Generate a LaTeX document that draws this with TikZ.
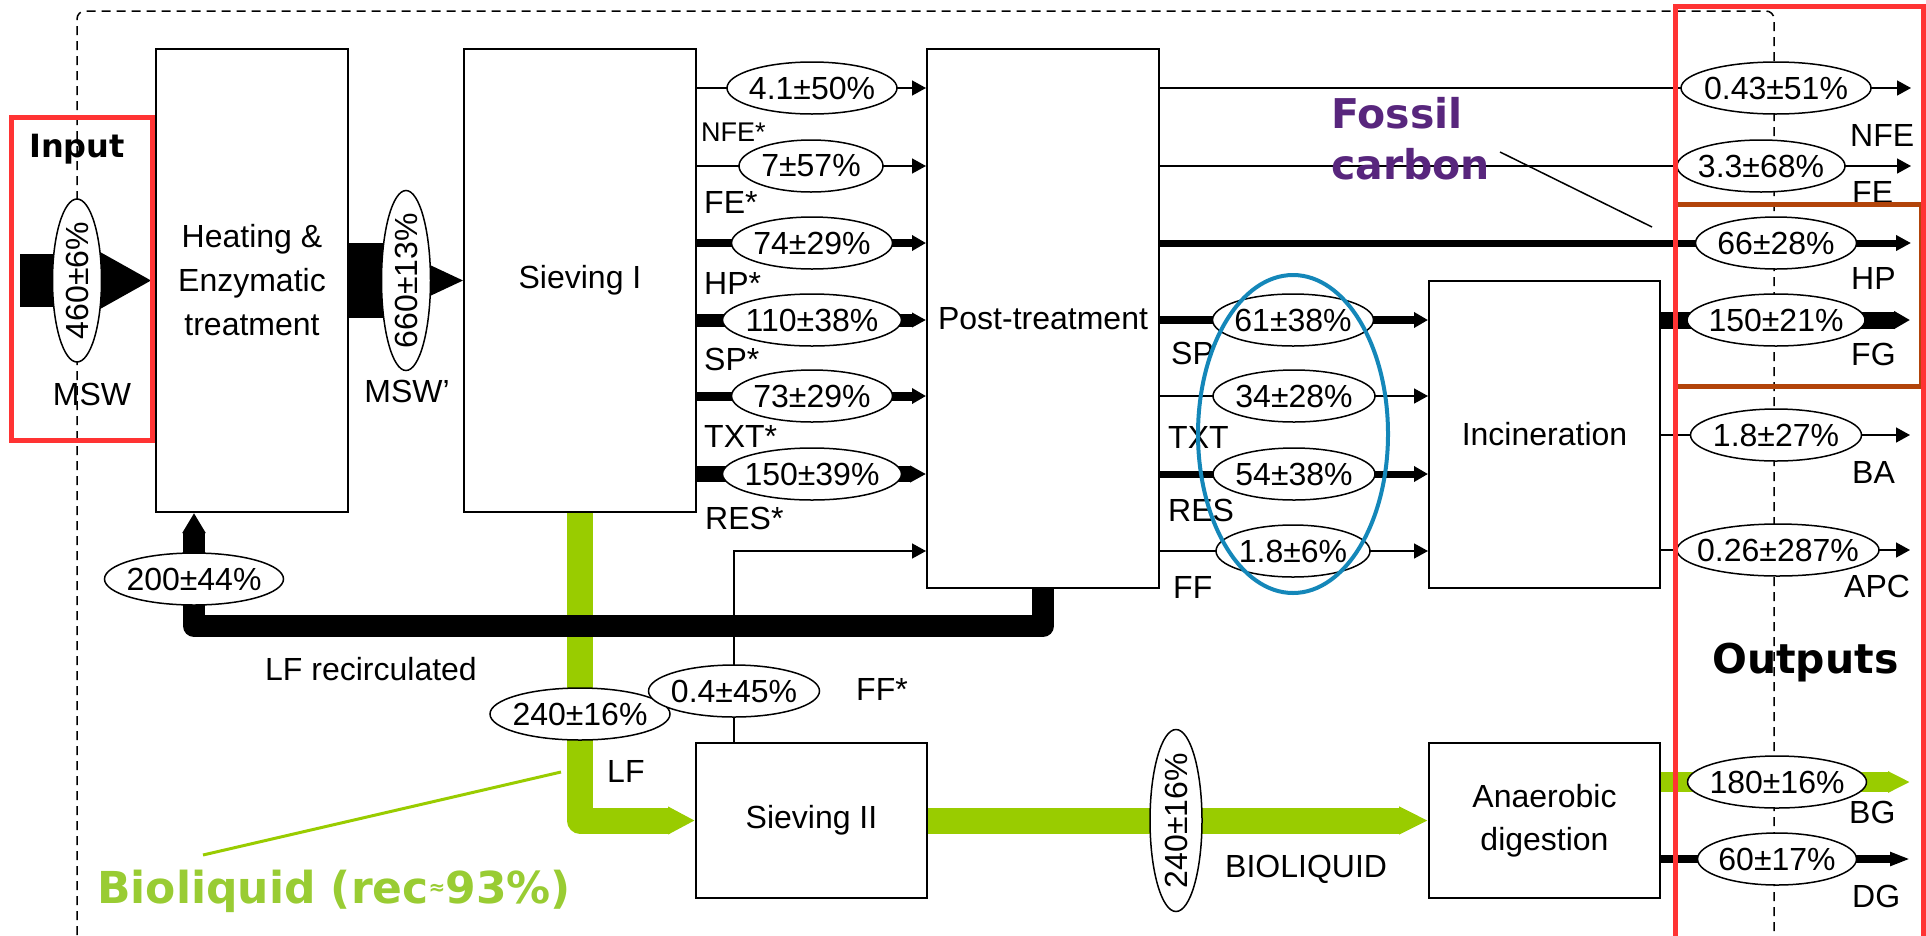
\documentclass[tikz,border=0pt]{standalone}
\usepackage{fontspec}
\setmainfont{Liberation Sans}
\newfontfamily\dvs{DejaVu Sans}
\usetikzlibrary{arrows.meta,shapes.geometric}
\pgfdeclarelayer{bg}
\pgfdeclarelayer{fg}
\pgfsetlayers{bg,main,fg}
\definecolor{lime}{RGB}{153,204,0}
\definecolor{limetxt}{RGB}{153,204,51}
\definecolor{fossilc}{RGB}{88,38,125}
\definecolor{redbox}{RGB}{255,51,51}
\definecolor{brownbox}{RGB}{178,68,10}
\definecolor{bluering}{RGB}{20,135,185}
\newcommand\lbl{\fontsize{32}{44}\selectfont}
\newcommand\slbl{\fontsize{27}{32}\selectfont}
\newcommand\ellnode[5][]{\node[ell,minimum width=#4pt,#1] (#2) at (#3) {#5};}
\tikzset{
 box/.style={draw, line width=2pt, fill=white, align=center, font=\lbl, inner sep=0pt},
 ell/.style={ellipse, draw, line width=1.5pt, fill=white, inner xsep=-40pt, inner ysep=0pt, minimum height=52pt, font=\lbl},
 lab/.style={font=\lbl, inner sep=0pt, anchor=base west},
 thinflow/.style={line width=1.5pt, -{Triangle[length=14pt,width=15pt]}},
 fl/.style n args={3}{line width=#1pt, -{Triangle[length=#2pt,width=#3pt]}},
 border/.style={line width=1.5pt, dash pattern=on 9pt off 6pt},
 hl/.style={line width=5pt},
 boldtxt/.style={inner sep=0pt, font={\dvs\bfseries\fontsize{#1}{#1}\selectfont}},
}
\begin{document}
\begin{tikzpicture}[x=1pt,y=-1pt]
\useasboundingbox (0,0) rectangle (1926,935);
% process boxes
\node[box, minimum width=192pt, minimum height=463pt] (heat) at (252,280.5) {Heating \&\\Enzymatic\\treatment};
\node[box, minimum width=232pt, minimum height=463pt] (sv1) at (580,280.5) {Sieving I};
\node[box, minimum width=232pt, minimum height=539pt] (post) at (1043,318.5) {Post-treatment};
\node[box, minimum width=231pt, minimum height=307pt] (inc) at (1544.5,434.5) {Incineration};
\node[box, minimum width=231pt, minimum height=155pt] (sv2) at (811.5,820.5) {Sieving II};
\node[box, minimum width=231pt, minimum height=155pt, font={\fontsize{32}{43}\selectfont}] (ad) at (1544.5,820.5) {Anaerobic\\digestion};
% flow values
\ellnode[rotate=90, minimum height=49pt]{e460}{77,280.5}{163}{460±6\%}
\ellnode[rotate=90, minimum height=49pt]{e660}{406,280.5}{180}{660±13\%}
\ellnode{eNFEs}{812,88}{170}{4.1±50\%}
\ellnode{eFEs}{811,166}{144}{7±57\%}
\ellnode{eHPs}{812,243}{161}{74±29\%}
\ellnode{eSPs}{812,320}{179}{110±38\%}
\ellnode{eTXTs}{812,396}{161}{73±29\%}
\ellnode{eRESs}{812,474}{179}{150±39\%}
\ellnode{eSP}{1293,320}{161}{61±38\%}
\ellnode{eTXT}{1294,396}{162}{34±28\%}
\ellnode{eRES}{1294,474}{162}{54±38\%}
\ellnode{eFF}{1293,551}{154}{1.8±6\%}
\ellnode{eNFE}{1776,88}{190}{0.43±51\%}
\ellnode{eFE}{1761,166}{168}{3.3±68\%}
\ellnode{eHP}{1776,243}{161}{66±28\%}
\ellnode{eFG}{1776,320}{178}{150±21\%}
\ellnode{eBA}{1776,435}{171}{1.8±27\%}
\ellnode{eAPC}{1778,550}{202}{0.26±287\%}
\ellnode{eBG}{1777,782}{179}{180±16\%}
\ellnode{eDG}{1777,859}{159}{60±17\%}
\ellnode{e200}{194,579}{179}{200±44\%}
\ellnode{e240}{580,714}{180}{240±16\%}
\ellnode{e04}{734,691}{171}{0.4±45\%}
\ellnode[rotate=90, minimum height=52pt]{e240b}{1176,820.5}{182}{240±16\%}
% coordinates
\coordinate (insrc) at (20,280.5);
\coordinate (rcl) at (194,626);
\coordinate (oNFE) at (1911,88);
\coordinate (oFE) at (1911,166);
\coordinate (oHP) at (1911,243);
\coordinate (oFG) at (1910,320);
\coordinate (oBA) at (1910,435);
\coordinate (oAPC) at (1910,550);
\coordinate (oBG) at (1910,782);
\coordinate (oDG) at (1910,859);
\coordinate (fc1) at (1500,152);
\coordinate (fc2) at (1652,227);
\coordinate (bl1) at (561,772);
\coordinate (bl2) at (203,855);
% labels
\node[boldtxt=32, anchor=base] (tinput) at (77,157) {Input};
\node[lab, anchor=base] (tmsw) at (92,405) {MSW};
\node[lab, anchor=base] (tmsw2) at (407,402) {MSW'};
\node[lab, font=\slbl] (tnfes) at (701,141) {NFE*};
\node[lab] (tfes) at (704,213) {FE*};
\node[lab] (thps) at (704,294) {HP*};
\node[lab] (tsps) at (704,370) {SP*};
\node[lab] (ttxts) at (704,447) {TXT*};
\node[lab] (tress) at (705,529) {RES*};
\node[lab] (tsp) at (1171,364) {SP};
\node[lab] (ttxt) at (1168,448) {TXT};
\node[lab] (tres) at (1168,521) {RES};
\node[lab] (tff) at (1173,598) {FF};
\node[lab] (tnfe) at (1850,146) {NFE};
\node[lab] (tfe) at (1852,203) {FE};
\node[lab] (thp) at (1851,289) {HP};
\node[lab] (tfg) at (1851,365) {FG};
\node[lab] (tba) at (1852,483) {BA};
\node[lab] (tapc) at (1844,597) {APC};
\node[lab] (tbg) at (1849,823) {BG};
\node[lab] (tdg) at (1852,907) {DG};
\node[lab] (tlfr) at (265,680) {LF recirculated};
\node[lab] (tlf) at (607,782) {LF};
\node[lab] (tffs) at (856,700) {FF*};
\node[lab] (tbioliq) at (1225,877) {BIOLIQUID};
\node[boldtxt=41, anchor=base west] (toutputs) at (1712,673) {Outputs};
\node[boldtxt=41, text=fossilc, align=left, anchor=north west, font={\dvs\bfseries\fontsize{41}{51}\selectfont}] (tfossil) at (1331,97) {Fossil\\carbon};
\node[boldtxt=44, text=limetxt, anchor=base west] (tbio) at (97,903) {Bioliquid (rec\raisebox{9pt}{\fontsize{20}{20}\selectfont ≈}93\%)};
% connectors
\begin{pgfonlayer}{bg}
\draw[border, rounded corners=8pt] (77,935) -- (77,11) -- (1774,11) -- (1774,935);
\draw[line width=53pt, -{Triangle[length=52pt,width=53pt]}] (insrc) -- ([xshift=-3pt]heat.west);
\draw[line width=75pt] (heat.east) -- (e660.center);
\fill ([xshift=25pt,yshift=15pt]e660.center) -- (sv1.west) -- ([xshift=25pt,yshift=-15pt]e660.center) -- cycle;
\draw[thinflow] (sv1.east |- eNFEs) -- (post.west |- eNFEs);
\draw[thinflow] (sv1.east |- eFEs) -- (post.west |- eFEs);
\draw[fl={8}{14}{15}] (sv1.east |- eHPs) -- (post.west |- eHPs);
\draw[fl={13}{14}{14}] (sv1.east |- eSPs) -- (post.west |- eSPs);
\draw[fl={9}{14}{15}] (sv1.east |- eTXTs) -- (post.west |- eTXTs);
\draw[fl={16}{16}{16}] (sv1.east |- eRESs) -- (post.west |- eRESs);
\draw[thinflow] (sv2.north -| e04) |- (post.west |- eFF);
\draw[fl={8}{14}{15}] (post.east |- eSP) -- (inc.west |- eSP);
\draw[thinflow] (post.east |- eTXT) -- (inc.west |- eTXT);
\draw[fl={7}{14}{15}] (post.east |- eRES) -- (inc.west |- eRES);
\draw[thinflow] (post.east |- eFF) -- (inc.west |- eFF);
\draw[thinflow] (post.east |- eNFE) -- (oNFE);
\draw[thinflow] (post.east |- eFE) -- (oFE);
\draw[fl={7}{15}{15}] (post.east |- eHP) -- (oHP);
\draw[fl={17}{16}{17}] (inc.east |- eFG) -- (oFG);
\draw[thinflow] (inc.east |- eBA) -- (oBA);
\draw[thinflow] (inc.east |- eAPC) -- (oAPC);
\draw[lime, line width=26pt, line join=round, -{Triangle[length=27pt,width=26pt]}] (sv1.south) |- (sv2.west);
\draw[line width=22pt, line join=round, -{Triangle[length=20pt,width=22pt]}] (post.south) |- (rcl) -- (heat.south -| rcl);
\draw[lime, fl={26}{29}{26}] (sv2.east) -- (ad.west);
\draw[lime, fl={20}{22}{20}] (ad.east |- eBG) -- (oBG);
\draw[fl={8}{20}{13}] (ad.east |- eDG) -- (oDG);
\draw[line width=1.5pt] (fc1) -- (fc2);
\draw[lime, line width=3pt] (bl1) -- (bl2);
\end{pgfonlayer}
% highlights
\begin{pgfonlayer}{fg}
\draw[brownbox, hl] (1675,204) rectangle (1921,386);
\draw[redbox, hl] (1675,6) rectangle (1923.5,960);
\draw[redbox, hl] (11,117) rectangle (152,440);
\draw[bluering, line width=4pt] (1293,434) ellipse [x radius=95pt, y radius=159pt];
\end{pgfonlayer}
\end{tikzpicture}
\end{document}
